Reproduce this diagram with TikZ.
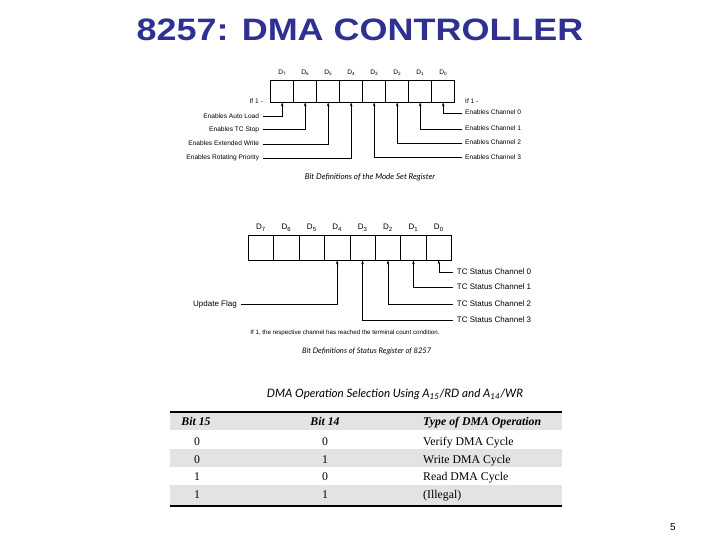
\documentclass[tikz,border=0pt]{standalone}
\usepackage{fontspec}
\setmainfont{Liberation Sans}
\newfontfamily\capfont{Lato}
\newfontfamily\tabfont{Liberation Serif}
\usetikzlibrary{arrows.meta}
\definecolor{titleblue}{RGB}{46,49,146}
\tikzset{
  cellA/.style={draw,line width=0.6pt,minimum width=23pt,minimum height=21.5pt,inner sep=0pt},
  cellB/.style={draw,line width=0.6pt,minimum width=25.4pt,minimum height=25pt,inner sep=0pt},
  lblA/.style={font=\fontsize{6.6}{8}\selectfont,inner sep=0pt,text height=4.8pt,text depth=1.4pt},
  lblB/.style={font=\fontsize{8}{9}\selectfont,inner sep=0pt,text height=5.8pt,text depth=1.7pt},
  captext/.style={font=\capfont\itshape\fontsize{8}{9}\selectfont,inner sep=0pt},
  tab/.style={font=\tabfont\fontsize{11.8}{13}\selectfont,inner sep=0pt,anchor=base},
  wire/.style={line width=0.6pt,-{Stealth[length=4pt,width=2.6pt]}},
}
\begin{document}
\begin{tikzpicture}[x=1pt,y=-1pt]
    \useasboundingbox (0,0) rectangle (720,540);
    % タイトル
    \node[font=\bfseries\fontsize{31}{36}\selectfont,text=titleblue,xscale=1.16,anchor=base,inner sep=0pt] (title) at (360,41) {8257: DMA CONTROLLER};
    \node[font=\fontsize{10}{12}\selectfont,anchor=base,inner sep=0pt] (pnum) at (673,530) {5};
    % モードセットレジスタ
    \foreach \k in {0,...,7}{
        \pgfmathtruncatemacro\b{7-\k}
        \node[cellA] (m\b) at (282.2+23*\k,91.3) {};
        \node[lblA] (mD\b) at (282.2+23*\k,73) {D\textsubscript{\b}};
    }
    \node[lblA,anchor=east] (ifA) at (263,102.3) {If 1 -};
    \node[lblA,anchor=west] (ifB) at (465,102.3) {If 1 -};
    \node[lblA,anchor=east] (lAL) at (259.3,116.7) {Enables Auto Load};
    \node[lblA,anchor=east] (lTC) at (259.3,129.7) {Enables TC Stop};
    \node[lblA,anchor=east] (lEW) at (259.3,144.3) {Enables Extended Write};
    \node[lblA,anchor=east] (lRP) at (259.3,158.3) {Enables Rotating Priority};
    \node[lblA,anchor=west] (rC0) at (465,113.3) {Enables Channel 0};
    \node[lblA,anchor=west] (rC1) at (465,129) {Enables Channel 1};
    \node[lblA,anchor=west] (rC2) at (465,143) {Enables Channel 2};
    \node[lblA,anchor=west] (rC3) at (465,157.7) {Enables Channel 3};
    % 矢印
    \draw[wire] ([xshift=3.7pt]lAL.east) -| (m7.south);
    \draw[wire] ([xshift=3.7pt]lTC.east) -| (m6.south);
    \draw[wire] ([xshift=3.7pt]lEW.east) -| (m5.south);
    \draw[wire] ([xshift=3.7pt]lRP.east) -| (m4.south);
    \draw[wire] ([xshift=-3pt]rC0.west) -| (m0.south);
    \draw[wire] ([xshift=-3pt]rC1.west) -| (m1.south);
    \draw[wire] ([xshift=-3pt]rC2.west) -| (m2.south);
    \draw[wire] ([xshift=-3pt]rC3.west) -| (m3.south);
    \node[captext] (capA) at (370,177) {Bit Definitions of the Mode Set Register};
    % ステータスレジスタ
    \foreach \k in {0,...,7}{
        \pgfmathtruncatemacro\b{7-\k}
        \node[cellB] (s\b) at (261+25.4*\k,247.5) {};
        \node[lblB] (sD\b) at (261+25.4*\k,227.7) {D\textsubscript{\b}};
    }
    \node[lblB,anchor=west] (tc0) at (456.7,272.3) {TC Status Channel 0};
    \node[lblB,anchor=west] (tc1) at (456.7,287.7) {TC Status Channel 1};
    \node[lblB,anchor=west] (tc2) at (456.7,304.3) {TC Status Channel 2};
    \node[lblB,anchor=west] (tc3) at (456.7,320.3) {TC Status Channel 3};
    \node[lblB,anchor=west] (upd) at (193,304.3) {Update Flag};
    \draw[wire] ([xshift=-3.4pt]tc0.west) -| (s0.south);
    \draw[wire] ([xshift=-3.4pt]tc1.west) -| (s1.south);
    \draw[wire] ([xshift=-3.4pt]tc2.west) -| (s2.south);
    \draw[wire] ([xshift=-3.4pt]tc3.west) -| (s3.south);
    \draw[wire] ([xshift=4pt]upd.east) -| (s4.south);
    \node[lblB,font=\fontsize{6.2}{8}\selectfont] (note) at (345,332.7) {If 1, the respective channel has reached the terminal count condition.};
    \node[captext,font=\capfont\itshape\fontsize{7.6}{9}\selectfont] (capB) at (366.7,351) {Bit Definitions of Status Register of 8257};
    % 表
    \node[captext,font=\capfont\itshape\fontsize{11.6}{13}\selectfont] (ttl) at (395,394) {DMA Operation Selection Using A\textsubscript{15}/RD and A\textsubscript{14}/WR};
    \fill[gray!22] (170,412) rectangle (562,430);
    \fill[gray!22] (170,449) rectangle (562,467);
    \fill[gray!22] (170,485) rectangle (562,506);
    \draw[line width=1.3pt] (170,412) -- (562,412);
    \draw[line width=1.3pt] (170,506) -- (562,506);
    \node[tab,font=\tabfont\bfseries\itshape\fontsize{11.8}{13}\selectfont] (h15) at (196,425.5) {Bit 15};
    \node[tab,font=\tabfont\bfseries\itshape\fontsize{11.8}{13}\selectfont] (h14) at (325,425.5) {Bit 14};
    \node[tab,font=\tabfont\bfseries\itshape\fontsize{11.8}{13}\selectfont,anchor=base west] (hop) at (423,425.5) {Type of DMA Operation};
    \foreach \r/\p/\q/\t in {1/0/0/Verify DMA Cycle,2/0/1/Write DMA Cycle,3/1/0/Read DMA Cycle,4/1/1/(Illegal)}{
        \node[tab] (a\r) at (197,445.3+17.8*\r-17.8) {\p};
        \node[tab] (b\r) at (325,445.3+17.8*\r-17.8) {\q};
        \node[tab,anchor=base west] (c\r) at (423,445.3+17.8*\r-17.8) {\t};
    }
\end{tikzpicture}
\end{document}
